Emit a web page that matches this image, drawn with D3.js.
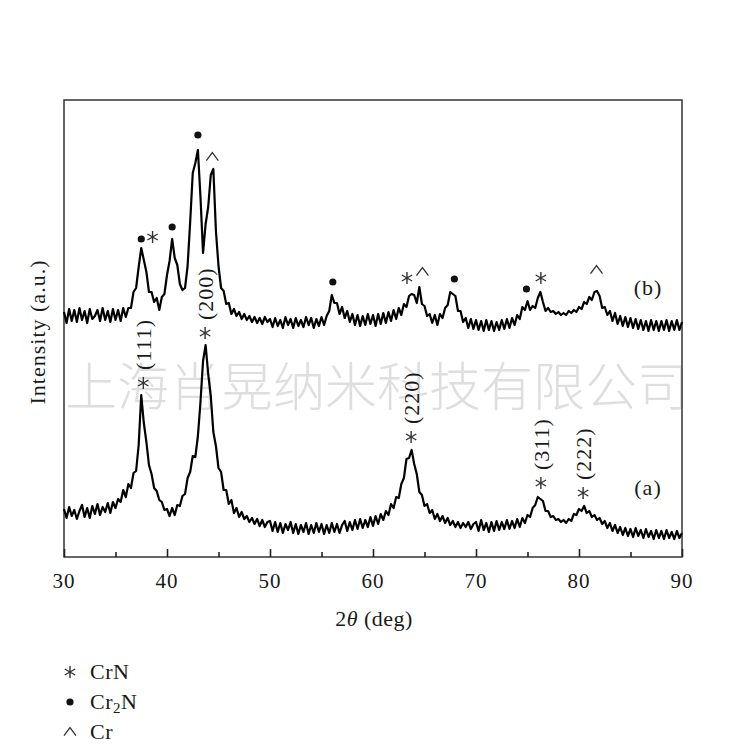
<!DOCTYPE html>
<html>
<head>
<meta charset="utf-8">
<script src="https://cdn.jsdelivr.net/npm/d3@7"></script>
<style>
  html, body { margin: 0; padding: 0; background: #fff; }
  svg { display: block; }
  text { font-family: "Liberation Serif", "Times New Roman", serif; fill: #1a1a1a; }
</style>
</head>
<body>
<svg id="chart" width="750" height="750"></svg>
<script>
// ---------- DATA ----------
// 2θ sampling: 30° to 90° in 0.25° steps (241 points)
const thetaStart = 30, thetaStep = 0.25, thetaCount = 241;

// Curve (a): intensity (a.u.)
const intensityA = [
  48,39,50,41,47,38,46,52,40,49,39,51,43,53,42,50,45,54,44,55,
  49,58,55,67,60,73,69,84,86,112,162,134,115,92,83,69,66,57,55,47,
  48,41,49,42,52,51,61,63,79,85,101,100,121,155,196,212,183,161,125,111,
  89,85,67,67,53,57,44,49,40,45,38,41,35,39,33,38,31,37,30,35,
  36,26,35,25,34,24,33,27,35,24,33,23,32,25,34,23,32,24,34,25,
  33,23,32,24,34,25,33,24,32,36,26,35,27,37,28,38,29,37,30,40,
  31,41,33,43,37,46,42,53,49,60,59,73,79,98,99,107,93,83,65,62,
  51,53,44,47,38,43,36,41,34,39,32,36,30,35,29,34,30,35,28,33,
  35,26,37,27,34,25,35,26,36,27,35,28,37,28,36,29,38,30,39,34,
  42,40,49,52,60,58,56,46,46,40,41,37,38,35,37,34,38,36,43,42,
  48,46,51,44,46,40,42,37,39,33,36,29,34,26,32,24,30,22,29,21,
  28,20,29,21,27,19,28,20,26,18,27,19,26,18,27,19,25,18,26,19,24
];

// Curve (b): intensity (a.u.) (offset above (a))
const intensityB = [
  245,234,248,236,247,235,249,237,246,234,248,238,241,247,236,249,237,246,235,248,
  237,247,236,249,240,249,249,265,269,290,309,297,285,265,265,255,259,247,260,263,
  282,296,318,299,292,273,267,269,291,335,384,394,407,360,304,333,350,382,388,326,
  291,269,266,253,254,243,248,241,245,238,243,237,241,235,240,234,239,233,240,235,
  238,230,239,231,237,229,240,232,238,229,239,231,237,230,240,232,239,229,238,231,
  240,232,241,246,262,254,254,243,250,239,246,235,243,232,242,231,241,232,243,233,
  242,231,243,233,244,234,245,236,247,238,249,242,253,250,261,263,262,254,270,253,
  251,241,243,234,242,232,243,239,249,252,265,263,261,246,246,235,239,229,238,228,
  237,227,236,226,237,227,236,226,235,227,237,228,238,229,239,232,242,238,250,247,
  256,247,251,249,259,265,255,246,249,245,246,243,245,242,244,242,246,244,247,245,
  250,248,255,253,260,257,265,266,261,249,250,242,246,236,244,233,241,231,240,230,
  239,229,238,228,237,227,236,226,237,227,236,226,236,227,237,226,236,227,237,227,235
];

// Phase markers on curve (b): [2θ, intensity, phase]
const markersB = [
  [37.5, 318, "Cr2N"], [38.6, 320, "CrN"], [40.5, 330, "Cr2N"], [43.0, 422, "Cr2N"],
  [44.4, 400, "Cr"], [56.1, 275, "Cr2N"], [63.3, 279, "CrN"], [64.8, 285, "Cr"],
  [67.9, 278, "Cr2N"], [74.9, 268, "Cr2N"], [76.3, 279, "CrN"], [81.7, 287, "Cr"]
];

// CrN reflections on curve (a): [2θ, intensity, hkl]
const markersA = [
  [37.7, 174, "(111)"], [43.7, 224, "(200)"], [63.7, 120, "(220)"],
  [76.3, 74, "(311)"], [80.4, 64, "(222)"]
];

// Curve labels: [2θ, intensity, text]
const curveLabels = [[86.7, 262, "(b)"], [86.7, 62, "(a)"]];

const xTicksMajor = [30, 40, 50, 60, 70, 80, 90];
const xTicksMinor = [35, 45, 55, 65, 75, 85];

const legendItems = [["CrN", "CrN"], ["Cr2N", "Cr2N"], ["Cr", "Cr"]];

const yTitle = "Intensity (a.u.)";
const watermark = "上海肖晃纳米科技有限公司";

// ---------- CHART ----------
const svg = d3.select("#chart");
const mLeft = 64, mRight = 682, mTop = 100, mBottom = 557;

const x = d3.scaleLinear().domain([30, 90]).range([mLeft, mRight]);
const y = d3.scaleLinear().domain([0, 457]).range([mBottom, mTop]);

const theta = d3.range(thetaCount).map(i => thetaStart + i * thetaStep);

// watermark
svg.append("text")
  .attr("x", mLeft + 1).attr("y", 406)
  .style("font-family", "'Noto Sans CJK SC', sans-serif")
  .style("font-size", "52px")
  .style("font-weight", "300")
  .style("fill", "#dedede")
  .text(watermark);

// frame
svg.append("rect")
  .attr("x", mLeft).attr("y", mTop)
  .attr("width", mRight - mLeft).attr("height", mBottom - mTop)
  .attr("fill", "none").attr("stroke", "#333").attr("stroke-width", 1.5);

// x axis ticks (inward)
const axis = svg.append("g").attr("transform", `translate(0,${mBottom})`);
axis.append("g").call(d3.axisTop(x).tickValues(xTicksMajor).tickSize(8).tickFormat(""))
  .call(g => g.select(".domain").remove())
  .selectAll("line").attr("stroke", "#222").attr("stroke-width", 1.6);
axis.append("g").call(d3.axisTop(x).tickValues(xTicksMinor).tickSize(5).tickFormat(""))
  .call(g => g.select(".domain").remove())
  .selectAll("line").attr("stroke", "#222").attr("stroke-width", 1.6);

// tick labels
svg.append("g").selectAll("text").data(xTicksMajor).join("text")
  .attr("x", d => x(d)).attr("y", 588)
  .attr("text-anchor", "middle")
  .style("font-size", "21px").style("letter-spacing", "1px")
  .text(d => d);

// axis titles
const xt = svg.append("text").attr("x", (mLeft + mRight) / 2 + 1).attr("y", 626)
  .attr("text-anchor", "middle").style("font-size", "22px").style("letter-spacing", "0.5px");
xt.append("tspan").text("2");
xt.append("tspan").style("font-style", "italic").text("θ");
xt.append("tspan").text(" (deg)");

svg.append("text")
  .attr("transform", "translate(37,332) rotate(-90)")
  .attr("dy", "0.35em")
  .attr("text-anchor", "middle")
  .style("font-size", "22px").style("letter-spacing", "1px")
  .text(yTitle);

// curves
const line = d3.line().x((d, i) => x(theta[i])).y(d => y(d));
[intensityA, intensityB].forEach(series => {
  svg.append("path").datum(series)
    .attr("d", line)
    .attr("fill", "none").attr("stroke", "#000")
    .attr("stroke-width", 2.2).attr("stroke-linejoin", "round");
});

// symbols
const symbolCaret = {
  draw(ctx, size) {
    const r = Math.sqrt(size) / 2;
    ctx.moveTo(-r, r * 0.6);
    ctx.lineTo(0, -r * 0.75);
    ctx.lineTo(r, r * 0.6);
  }
};
function drawMarker(g, phase) {
  if (phase === "CrN") {
    g.append("path").attr("d", d3.symbol(d3.symbolAsterisk, 100)())
      .attr("fill", "none").attr("stroke", "#333").attr("stroke-width", 1.4);
  } else if (phase === "Cr2N") {
    g.append("circle").attr("r", 3.6).attr("fill", "#111");
  } else {
    g.append("path").attr("d", d3.symbol(symbolCaret, 144)())
      .attr("fill", "none").attr("stroke", "#333").attr("stroke-width", 1.3);
  }
}

markersB.forEach(([t, v, p]) => {
  const g = svg.append("g").attr("transform", `translate(${x(t)},${y(v)})`);
  drawMarker(g, p);
});

markersA.forEach(([t, v, hkl]) => {
  const g = svg.append("g").attr("transform", `translate(${x(t)},${y(v)})`);
  drawMarker(g, "CrN");
  g.append("text")
    .attr("transform", "translate(0,-13) rotate(-90)")
    .attr("dy", "0.35em")
    .attr("text-anchor", "start")
    .style("font-size", "22px").style("letter-spacing", "1px")
    .text(hkl);
});

// curve labels
svg.append("g").selectAll("text").data(curveLabels).join("text")
  .attr("x", d => x(d[0])).attr("y", d => y(d[1]))
  .attr("text-anchor", "middle")
  .style("font-size", "22px").style("letter-spacing", "1px")
  .text(d => d[2]);

// legend
const legend = svg.append("g").attr("transform", "translate(70,672)");
legendItems.forEach(([phase, label], i) => {
  const g = legend.append("g").attr("transform", `translate(0,${i * 30})`);
  drawMarker(g, phase);
  const t = g.append("text").attr("x", 20).attr("y", 7)
    .style("font-size", "22px").style("letter-spacing", "0.5px");
  if (label === "Cr2N") {
    t.append("tspan").text("Cr");
    t.append("tspan").attr("dy", 4).style("font-size", "15px").text("2");
    t.append("tspan").attr("dy", -4).text("N");
  } else {
    t.text(label);
  }
});
</script>
</body>
</html>
